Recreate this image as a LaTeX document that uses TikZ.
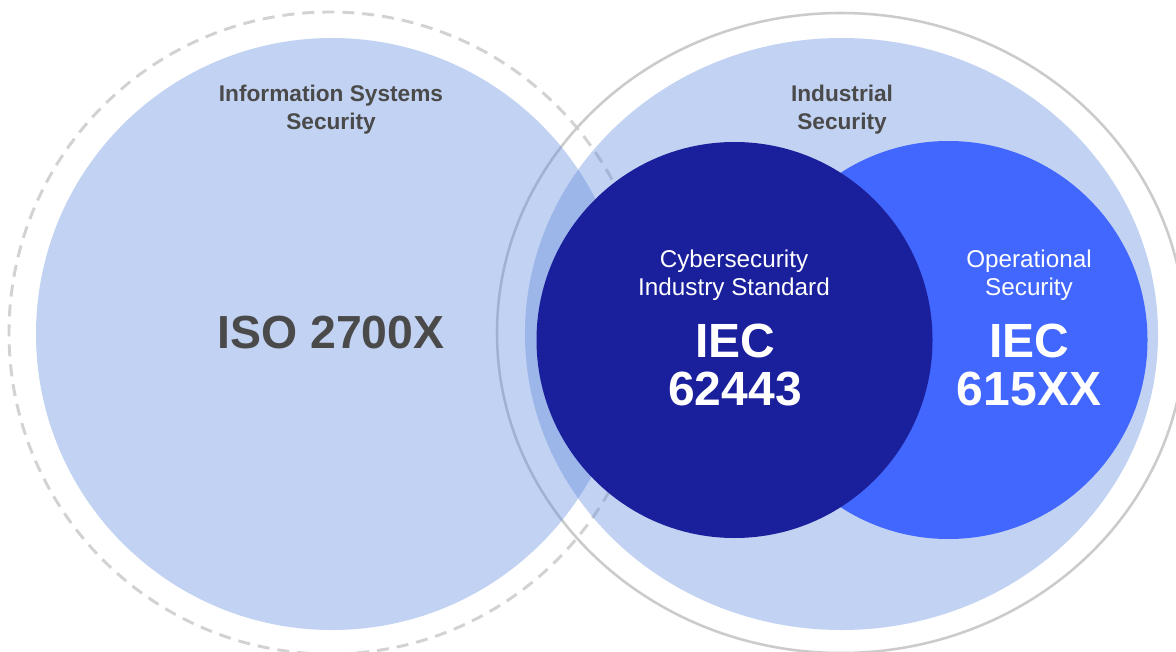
\documentclass[tikz,border=0pt]{standalone}
\usepackage{fontspec}
\setmainfont{Liberation Sans}
\definecolor{ringgray}{HTML}{CBCBCB}
\definecolor{dashgray}{HTML}{D2D2D2}
\definecolor{paleblue}{RGB}{91,135,222}
\definecolor{navy}{HTML}{1A1F9C}
\definecolor{brightblue}{HTML}{4267FF}
\definecolor{labelgray}{HTML}{4A4A4A}
\begin{document}
\begin{tikzpicture}[x=0.75pt,y=-0.75pt,
  zone/.style={fill=paleblue, fill opacity=0.37},
  areatitle/.style={anchor=base, text=labelgray, font=\fontsize{17}{20}\selectfont\bfseries, inner sep=0pt},
  bigdark/.style={anchor=base, text=labelgray, font=\fontsize{34.8}{40}\selectfont\bfseries, inner sep=0pt},
  subtitle/.style={anchor=base, text=white, font=\fontsize{18.2}{22}\selectfont, inner sep=0pt},
  bigwhite/.style={anchor=base, text=white, font=\fontsize{36}{42}\selectfont\bfseries, inner sep=0pt}]
\useasboundingbox (0,0) rectangle (1176,652);
\fill[white] (0,0) rectangle (1176,652);

% centres of the areas
\coordinate (isc) at (332,334);
\coordinate (indc) at (841.5,334);
\coordinate (cybc) at (734.5,340);
\coordinate (opc) at (948.5,340);

% outer boundaries
\draw[dashgray, line width=2.2pt, dash pattern=on 9pt off 6pt] (330,333) circle [radius=240.75pt];
\draw[ringgray, line width=1.9pt] (841,333) ellipse [x radius=258pt, y radius=240pt];

% information systems and industrial areas
\fill[zone] (isc) circle [radius=222pt];
\fill[zone] (indc) ellipse [x radius=237.4pt, y radius=222pt];

% standards
\fill[brightblue] (opc) circle [radius=149.25pt];
\fill[navy] (cybc) circle [radius=148.5pt];

% labels
\node[areatitle] (is1) at (331,102) {Information Systems};
\node[areatitle] (is2) at (331,130) {Security};
\node[bigdark] (iso) at (331,348) {ISO 2700X};

\node[areatitle] (ind1) at (842,102) {Industrial};
\node[areatitle] (ind2) at (842,130) {Security};

\node[subtitle] (cy1) at (734,267) {Cybersecurity};
\node[subtitle] (cy2) at (734,295) {Industry Standard};
\node[bigwhite] (cy3) at (735,357) {IEC};
\node[bigwhite] (cy4) at (735,405) {62443};

\node[subtitle] (op1) at (1029,267) {Operational};
\node[subtitle] (op2) at (1029,295) {Security};
\node[bigwhite] (op3) at (1029,357) {IEC};
\node[bigwhite] (op4) at (1029,405) {615XX};
\end{tikzpicture}
\end{document}
